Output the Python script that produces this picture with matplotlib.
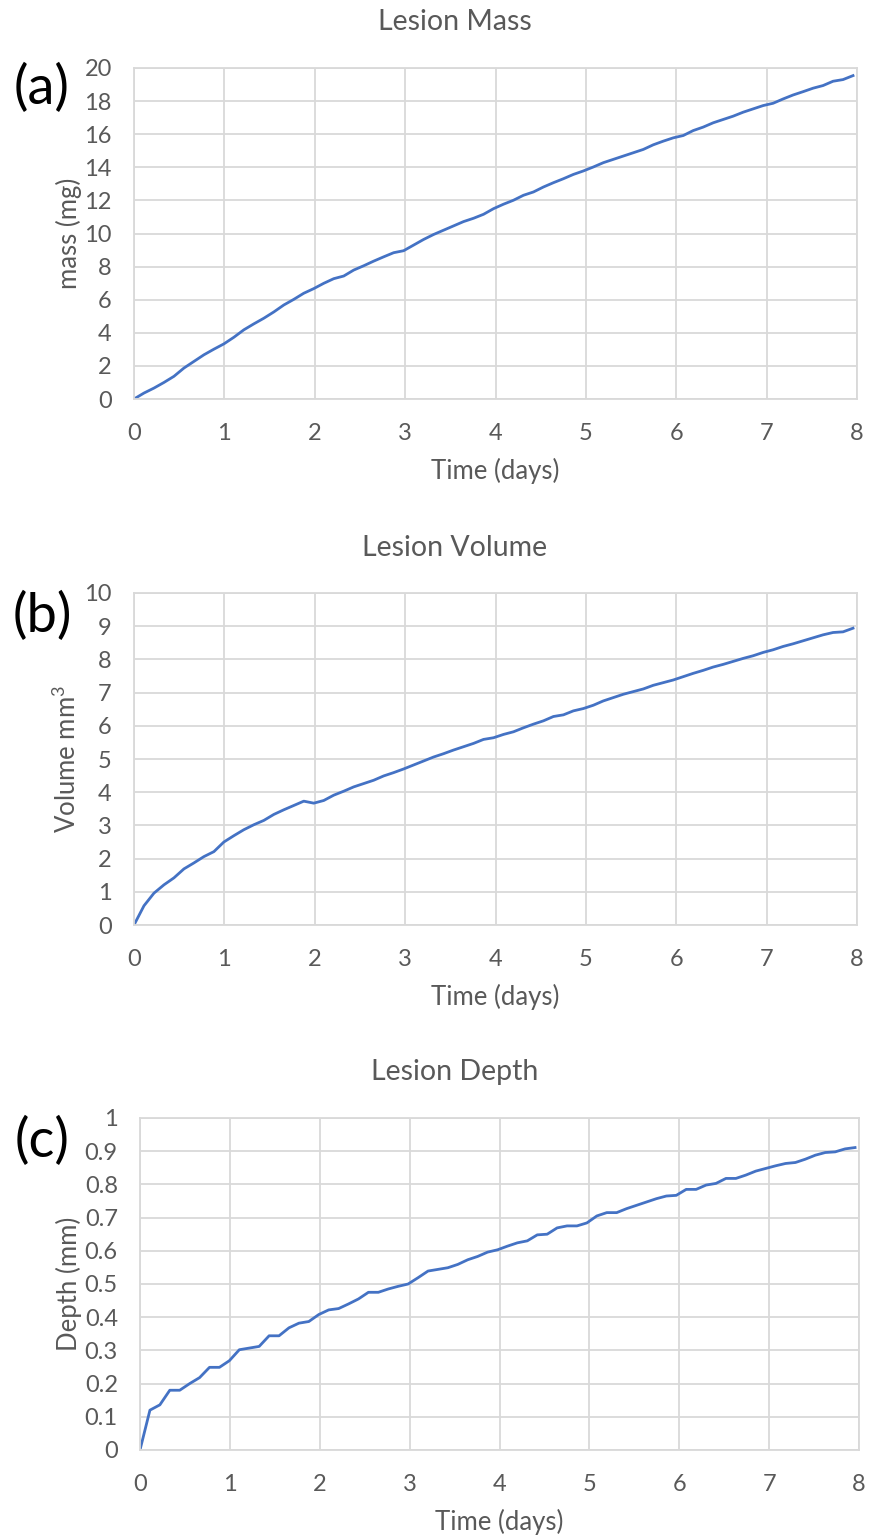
import numpy as np
import matplotlib
matplotlib.use('Agg')
import matplotlib.pyplot as plt

# values, one sample every ~0.11 days
mass_mg = [0, 0.36, 0.66, 1.00, 1.37, 1.87, 2.27, 2.67, 3.01, 3.33,
           3.73, 4.18, 4.54, 4.88, 5.26, 5.68, 6.02, 6.39, 6.67, 6.99,
           7.27, 7.43, 7.79, 8.05, 8.33, 8.59, 8.84, 8.96, 9.30, 9.64,
           9.94, 10.20, 10.46, 10.72, 10.92, 11.16, 11.50, 11.77, 12.01, 12.31,
           12.51, 12.81, 13.07, 13.31, 13.57, 13.78, 14.02, 14.28, 14.48, 14.68,
           14.88, 15.08, 15.36, 15.58, 15.78, 15.92, 16.22, 16.43, 16.69, 16.89,
           17.09, 17.33, 17.53, 17.73, 17.87, 18.13, 18.37, 18.57, 18.78, 18.94,
           19.20, 19.30, 19.54]

volume_mm3 = [0, 0.58, 0.96, 1.21, 1.42, 1.69, 1.87, 2.06, 2.21, 2.50,
              2.69, 2.87, 3.02, 3.15, 3.33, 3.47, 3.60, 3.73, 3.67, 3.75,
              3.91, 4.03, 4.16, 4.26, 4.36, 4.49, 4.59, 4.70, 4.82, 4.94,
              5.06, 5.16, 5.27, 5.37, 5.47, 5.59, 5.64, 5.74, 5.82, 5.94,
              6.05, 6.15, 6.28, 6.33, 6.45, 6.52, 6.62, 6.75, 6.85, 6.95,
              7.03, 7.11, 7.22, 7.30, 7.38, 7.48, 7.58, 7.67, 7.77, 7.85,
              7.94, 8.03, 8.11, 8.21, 8.29, 8.39, 8.47, 8.56, 8.65, 8.74,
              8.81, 8.83, 8.94]

depth_mm = [0, 0.120, 0.136, 0.180, 0.180, 0.200, 0.218, 0.249, 0.249, 0.269,
            0.302, 0.307, 0.312, 0.344, 0.344, 0.368, 0.382, 0.387, 0.408, 0.422,
            0.426, 0.440, 0.455, 0.475, 0.475, 0.485, 0.493, 0.500, 0.519, 0.539,
            0.544, 0.549, 0.559, 0.573, 0.583, 0.596, 0.603, 0.614, 0.624, 0.630,
            0.648, 0.650, 0.669, 0.675, 0.675, 0.684, 0.705, 0.715, 0.715, 0.727,
            0.737, 0.747, 0.757, 0.765, 0.767, 0.785, 0.785, 0.798, 0.803, 0.818,
            0.818, 0.828, 0.840, 0.848, 0.856, 0.863, 0.866, 0.876, 0.888, 0.896,
            0.898, 0.907, 0.911]

step_days = 0.1105
time_days = np.arange(len(mass_mg)) * step_days

titles = ['Lesion Mass', 'Lesion Volume', 'Lesion Depth']
panel_tags = ['(a)', '(b)', '(c)']
ylabels = ['mass (mg)', 'Volume mm$^3$', 'Depth (mm)']
yticks = [np.arange(0, 21, 2), np.arange(0, 11, 1), np.round(np.arange(0, 1.01, 0.1), 1)]
ytick_labels = [[str(v) for v in yticks[0]],
                [str(v) for v in yticks[1]],
                ['0'] + ['%.1f' % v for v in yticks[2][1:-1]] + ['1']]
series = [mass_mg, volume_mm3, depth_mm]

plt.rcParams['font.family'] = ['Lato', 'DejaVu Sans']
plt.rcParams['mathtext.fontset'] = 'custom'
plt.rcParams['mathtext.rm'] = 'Lato'
txt = '#595959'
grid_c = '#d9d9d9'
line_c = '#4472c4'

W, H = 869, 1536
fig = plt.figure(figsize=(W/100, H/100), dpi=100)

# axes boxes in pixels: left, top, right, bottom
boxes = [(134, 68, 857, 399), (134, 593, 857, 925), (140, 1118, 859, 1450)]
title_y = [22, 548, 1072]
tag_y = [88, 616, 1141]

for k in range(3):
    l, t, r, b = boxes[k]
    ax = fig.add_axes([l/W, 1-b/H, (r-l)/W, (b-t)/H])
    ax.plot(time_days, series[k], color=line_c, lw=2.0, solid_joinstyle='round')
    ax.set_xlim(0, 8)
    ax.set_ylim(yticks[k][0], yticks[k][-1])
    ax.set_xticks(range(9))
    ax.set_yticks(yticks[k])
    ax.set_yticklabels(ytick_labels[k])
    ax.grid(True, color=grid_c, lw=1.3)
    ax.set_axisbelow(True)
    for s in ax.spines.values():
        s.set_color(grid_c)
        s.set_linewidth(1.3)
    ax.tick_params(length=0, labelsize=17, colors=txt)
    ax.tick_params(axis='x', pad=17)
    ax.tick_params(axis='y', pad=16)
    ax.set_xlabel('Time (days)', fontsize=18.5, color=txt, labelpad=10)
    ax.set_ylabel(ylabels[k], fontsize=18.5, color=txt, labelpad=2)
    fig.text(455/W, 1-title_y[k]/H, titles[k], fontsize=20.5, color=txt,
             ha='center', va='center')
    fig.text(42/W, 1-tag_y[k]/H, panel_tags[k], fontsize=39, color='black',
             ha='center', va='center')

fig.savefig('out.png', dpi=100)
